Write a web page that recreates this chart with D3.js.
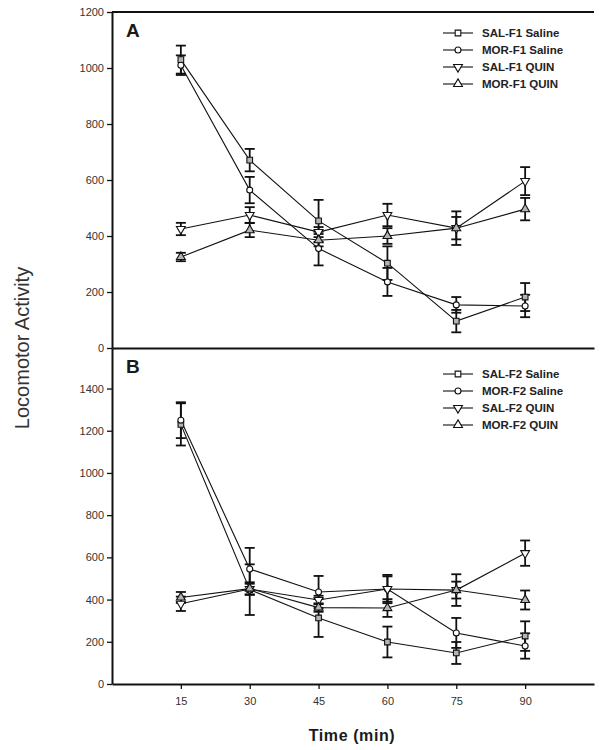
<!DOCTYPE html>
<html>
<head>
<meta charset="utf-8">
<script src="https://cdn.jsdelivr.net/npm/d3@7"></script>
<style>
body { margin: 0; background: #fff; }
svg text { font-family: Arial, "Liberation Sans", sans-serif; }
</style>
</head>
<body>
<div id="chart"></div>
<script>
// time points (min)
var times = [15, 30, 45, 60, 75, 90]
var ticksA = [0, 200, 400, 600, 800, 1000, 1200]
var ticksB = [0, 200, 400, 600, 800, 1000, 1200, 1400]

// panel A - F1
var namesA = ["SAL-F1 Saline", "MOR-F1 Saline", "SAL-F1 QUIN", "MOR-F1 QUIN"]
var salSalineA = [1030, 671, 454, 303, 96, 182]
var salSalineAErr = [50, 40, 75, 60, 40, 50]
var morSalineA = [1010, 564, 355, 236, 154, 150]
var morSalineAErr = [35, 47, 60, 50, 28, 40]
var salQuinA = [425, 475, 414, 475, 428, 596]
var salQuinAErr = [22, 28, 18, 40, 60, 50]
var morQuinA = [325, 421, 385, 400, 428, 496]
var morQuinAErr = [15, 25, 22, 28, 40, 40]

// panel B - F2
var namesB = ["SAL-F2 Saline", "MOR-F2 Saline", "SAL-F2 QUIN", "MOR-F2 QUIN"]
var salSalineB = [1230, 447, 313, 199, 147, 227]
var salSalineBErr = [100, 120, 90, 73, 52, 70]
var morSalineB = [1250, 545, 436, 450, 242, 180]
var morSalineBErr = [85, 100, 76, 67, 71, 60]
var salQuinB = [380, 450, 398, 450, 445, 620]
var salQuinBErr = [34, 25, 20, 60, 75, 60]
var morQuinB = [410, 452, 362, 360, 445, 398]
var morQuinBErr = [26, 30, 20, 42, 40, 45]

var W = 601, H = 750
var svg = d3.select("#chart").append("svg")
    .attr("width", W)
    .attr("height", H)

var x = d3.scaleLinear().domain([0, 105]).range([112, 594])
var yA = d3.scaleLinear().domain([0, 1200]).range([348, 12])
var yB = d3.scaleLinear().domain([0, 1592]).range([684, 348])

// marker style per series: square, circle, down triangle, up triangle
var shapes = [d3.symbolSquare, d3.symbolCircle, d3.symbolTriangle, d3.symbolTriangle]
var sizes = [32, 28, 34, 34]
var rot = [0, 0, 180, 0]
var fills = ["#b4b4b4", "#fff", "#fff", "#b4b4b4"]

function drawPanel(y, ticks, series, errs, names, label, legendTop) {
    var g = svg.append("g")

    // lines
    series.forEach(function(s, i) {
        g.append("path")
            .datum(s)
            .attr("fill", "none")
            .attr("stroke", "#111")
            .attr("stroke-width", 1.1)
            .attr("d", d3.line().x(function(d, j) { return x(times[j]) }).y(function(d) { return y(d) }))
    })

    // error bars
    series.forEach(function(s, i) {
        s.forEach(function(v, j) {
            var cx = x(times[j]), e = errs[i][j]
            g.append("line").attr("x1", cx).attr("x2", cx)
                .attr("y1", y(v + e)).attr("y2", y(v - e))
                .attr("stroke", "#111").attr("stroke-width", 1.8)
            ;[v + e, v - e].forEach(function(c) {
                g.append("line").attr("x1", cx - 5).attr("x2", cx + 5)
                    .attr("y1", y(c)).attr("y2", y(c))
                    .attr("stroke", "#111").attr("stroke-width", 1.8)
            })
        })
    })

    // markers
    series.forEach(function(s, i) {
        g.selectAll(null).data(s).enter().append("path")
            .attr("d", d3.symbol().type(shapes[i]).size(sizes[i]))
            .attr("transform", function(d, j) { return "translate(" + x(times[j]) + "," + y(d) + ") rotate(" + rot[i] + ")" })
            .attr("fill", fills[i])
            .attr("stroke", "#111")
            .attr("stroke-width", 1.1)
    })

    // y axis
    var ya = g.append("g")
        .attr("transform", "translate(112,0)")
        .call(d3.axisLeft(y).tickValues(ticks).tickFormat(d3.format("d")).tickSize(5).tickSizeOuter(0).tickPadding(3))
    ya.select(".domain").attr("stroke", "#111").attr("stroke-width", 2)
    ya.selectAll(".tick line").attr("stroke", "#111").attr("stroke-width", 1.3)
    ya.selectAll(".tick text").attr("font-size", 11).attr("fill", "#333")
        .attr("font-family", "Arial, 'Liberation Sans', sans-serif")

    // panel letter
    g.append("text")
        .attr("x", 126).attr("y", y.range()[1] + 25)
        .attr("font-size", 19).attr("font-weight", "bold").attr("fill", "#1a1a1a")
        .text(label)

    // legend
    names.forEach(function(n, i) {
        var ly = legendTop + i * 17
        g.append("line").attr("x1", 443).attr("x2", 473).attr("y1", ly).attr("y2", ly)
            .attr("stroke", "#111").attr("stroke-width", 1.1)
        g.append("path")
            .attr("d", d3.symbol().type(shapes[i]).size(sizes[i]))
            .attr("transform", "translate(458," + ly + ") rotate(" + rot[i] + ")")
            .attr("fill", "#fff").attr("stroke", "#111").attr("stroke-width", 1.1)
        g.append("text")
            .attr("x", 482).attr("y", ly + 4)
            .attr("font-size", 11.5).attr("font-weight", "bold").attr("fill", "#222")
            .text(n)
    })
}

drawPanel(yA, ticksA,
    [salSalineA, morSalineA, salQuinA, morQuinA],
    [salSalineAErr, morSalineAErr, salQuinAErr, morQuinAErr],
    namesA, "A", 33)

drawPanel(yB, ticksB,
    [salSalineB, morSalineB, salQuinB, morQuinB],
    [salSalineBErr, morSalineBErr, salQuinBErr, morQuinBErr],
    namesB, "B", 374)

// top border of panel A
svg.append("line").attr("x1", x(0)).attr("x2", x(105)).attr("y1", 12).attr("y2", 12)
    .attr("stroke", "#111").attr("stroke-width", 2)

// x axis of panel A (no ticks)
var xa = svg.append("g").attr("transform", "translate(0,348)")
    .call(d3.axisBottom(x).tickValues([]).tickSizeOuter(0))
xa.select(".domain").attr("stroke", "#111").attr("stroke-width", 2)

// x axis of panel B
var xb = svg.append("g").attr("transform", "translate(0,684)")
    .call(d3.axisBottom(x).tickValues(times).tickSize(5).tickSizeOuter(0).tickPadding(8))
xb.select(".domain").attr("stroke", "#111").attr("stroke-width", 2)
xb.selectAll(".tick line").attr("stroke", "#111").attr("stroke-width", 1.3)
xb.selectAll(".tick text").attr("font-size", 11).attr("fill", "#333")
    .attr("font-family", "Arial, 'Liberation Sans', sans-serif")

// axis titles
svg.append("text")
    .attr("x", 352).attr("y", 741)
    .attr("text-anchor", "middle")
    .attr("font-size", 16).attr("font-weight", "bold").attr("fill", "#1a1a1a")
    .attr("letter-spacing", 0.6)
    .text("Time (min)")

svg.append("text")
    .attr("transform", "translate(29,348) rotate(-90)")
    .attr("text-anchor", "middle")
    .attr("font-size", 20).attr("fill", "#333")
    .text("Locomotor Activity")
</script>
</body>
</html>
